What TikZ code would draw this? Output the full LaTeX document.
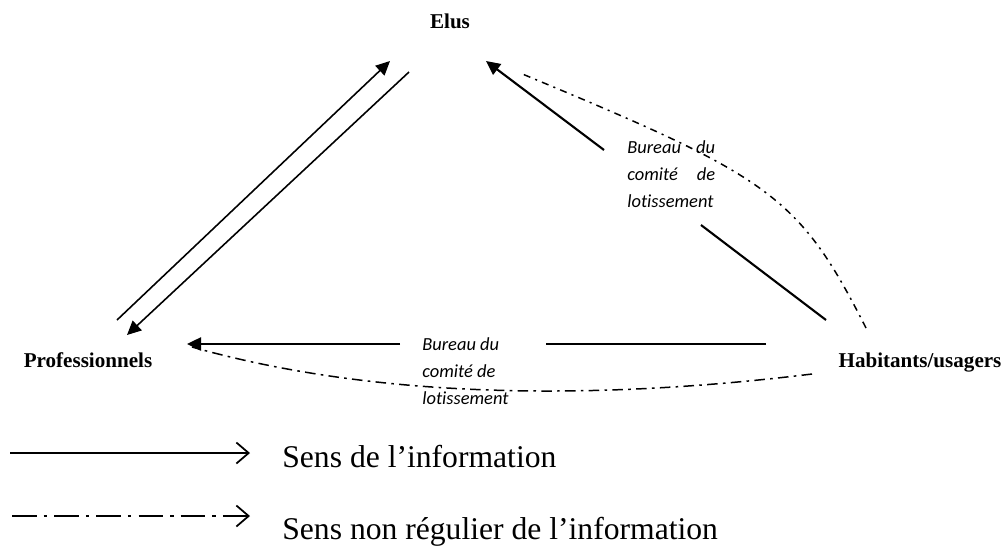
\documentclass[tikz,border=0pt]{standalone}
\usepackage{fontspec}
\setmainfont{Liberation Serif}
\newfontfamily\calibri[Ligatures=NoCommon]{Carlito}
\usetikzlibrary{arrows.meta}

\tikzset{
  actor/.style={font=\bfseries\fontsize{12}{14}\selectfont, inner sep=0pt, anchor=base},
  bureau/.style={font=\calibri\itshape\fontsize{10.5}{15.4}\selectfont, inner sep=0pt, anchor=north west},
  info/.style={line width=1.2pt, -{Triangle[length=8pt,width=7.5pt]}},
  infothin/.style={line width=.9pt, -{Triangle[length=8pt,width=7.5pt]}},
  irreg/.style={line width=.85pt, dash pattern=on 6pt off 3pt on 1.5pt off 3pt},
  legtext/.style={font=\fontsize{18}{22}\selectfont, inner sep=0pt, anchor=base west},
  legarrow/.style={line width=1pt, -{Straight Barb[length=7pt,width=12pt]}},
}

\begin{document}
\begin{tikzpicture}[x=0.02cm,y=-0.02cm]
  \useasboundingbox (0,0) rectangle (1007,549);

  % draw actors
  \node[actor] (elus) at (450,28) {Elus};
  \node[actor] (pro) at (88,367) {Professionnels};
  \node[actor] (hab) at (920,367) {Habitants/usagers};

  % draw bureau labels
  \node[bureau, text width=50pt, align=justify] (burright) at (627,140)
    {Bureau du\linebreak comité de\linebreak lotissement};
  \node[bureau, align=left] (burbottom) at (422,337)
    {Bureau du\\comité de\\lotissement};

  % end points of the arrows
  \coordinate (pro-up) at (117,320);
  \coordinate (elus-up) at (390,61);
  \coordinate (elus-down) at (409,72);
  \coordinate (pro-down) at (127,335);
  \coordinate (hab-n) at (826,320);
  \coordinate (gap-low) at (701,225);
  \coordinate (gap-high) at (604,150);
  \coordinate (elus-r) at (486,61);
  \coordinate (hab-w) at (766,344);
  \coordinate (gap-right) at (546,344);
  \coordinate (gap-left) at (400,344);
  \coordinate (pro-e) at (187,344);
  \coordinate (hab-ne) at (866,328);
  \coordinate (elus-dd) at (520,73);
  \coordinate (hab-sw) at (812,374);
  \coordinate (pro-dd) at (192,347);

  % draw Elus <-> Professionnels
  \draw[infothin] (pro-up) -- (elus-up);
  \draw[infothin] (elus-down) -- (pro-down);

  % draw Habitants -> Elus
  \draw[line width=1.2pt] (hab-n) -- (gap-low);
  \draw[info] (gap-high) -- (elus-r);
  \draw[irreg, dash pattern=on 4pt off 3pt on 1.2pt off 3pt] (hab-ne) .. controls (798,194) and (770,177) .. (elus-dd);

  % draw Habitants -> Professionnels
  \draw[line width=1.2pt] (hab-w) -- (gap-right);
  \draw[info] (gap-left) -- (pro-e);
  \draw[irreg] (hab-sw) .. controls (600,400) and (380,400) .. (pro-dd);

  % draw legend
  \coordinate (leg1-a) at (10,453);
  \coordinate (leg1-b) at (250,453);
  \coordinate (leg2-a) at (12,516);
  \coordinate (leg2-b) at (250,516);
  \draw[legarrow] (leg1-a) -- (leg1-b);
  \draw[legarrow, dash pattern=on 14pt off 4pt on 2pt off 4pt] (leg2-a) -- (leg2-b);
  \node[legtext] (leg1) at (282,467) {Sens de l’information};
  \node[legtext] (leg2) at (282,539) {Sens non régulier de l’information};
\end{tikzpicture}
\end{document}
